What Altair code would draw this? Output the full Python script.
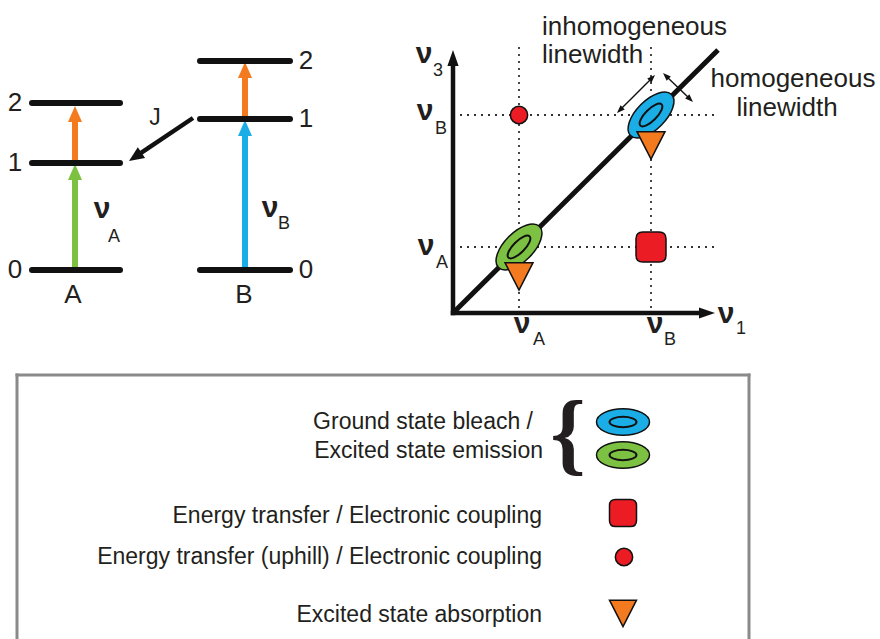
import math
import altair as alt
import pandas as pd

W, H = 880, 639
FONT = "Liberation Sans"
INK = "#231F20"

# ---------------- signal kinds and their colours ----------------
signal_kinds = ["bleach A", "bleach B", "ESA", "coupling"]
signal_colors = ["#7DC143", "#1BAEE6", "#F37A1F", "#EC1C24"]

# ---------------- energy-level diagram (canvas units) ----------------
lvl_mol = ["A", "A", "A", "B", "B", "B"]
lvl_n = ["0", "1", "2", "0", "1", "2"]
lvl_x0 = [32, 32, 32, 200, 200, 200]
lvl_x1 = [120, 120, 120, 290, 290, 290]
lvl_y = [270, 163, 103, 270, 119, 61]
lvl_lab_x = [15, 15, 15, 306, 306, 306]

mol_names = ["A", "B"]
mol_x = [73, 244]
mol_y = [303, 303]

tr_kind = ["bleach A", "ESA", "bleach B", "ESA"]
tr_x = [75, 75, 245, 245]
tr_from = [270, 163, 270, 119]
tr_tip = [164, 106, 120, 62]

j_x = [193, 129]
j_y = [118, 161]
j_lab = ["J"]
j_lab_x = [155]
j_lab_y = [125]

# ---------------- 2D spectrum schematic ----------------
orig_x, orig_y = 453, 313
axis_tip_x = [453, 715]
axis_tip_y = [50, 313]
diag_end_x, diag_end_y = 718, 50
nuA_x, nuB_x = 519, 651      # nu_1 positions
nuA_y, nuB_y = 247, 115      # nu_3 positions
guide_top, guide_right = 47, 716

diag_kind = ["bleach A", "bleach B"]
diag_x = [nuA_x, nuB_x]
diag_y = [nuA_y, nuB_y]
esa_x = [nuA_x, nuB_x]
esa_y = [276, 145]
cross_sq_x, cross_sq_y = [nuB_x], [nuA_y]
cross_ci_x, cross_ci_y = [nuA_x], [nuB_y]

lw_x0 = [617, 663]
lw_y0 = [113, 73]
lw_x1 = [655, 693]
lw_y1 = [75, 102]

# nu labels with subscripts
nu_x = [102, 270, 424, 425, 426, 522, 655, 726]
nu_y = [218, 217, 63, 120, 255, 333, 333, 323]
sub_text = ["A", "B", "3", "B", "A", "A", "B", "1"]
sub_x = [114, 284, 438, 441, 442, 539, 670, 741]
sub_y = [242, 229, 76, 134, 268, 345, 345, 334]

lw_text_l = ["inhomogeneous", "linewidth"]
lw_text_l_x = [542, 542]
lw_text_l_y = [35, 63]
lw_text_c = ["homogeneous", "linewidth"]
lw_text_c_x = [793, 787]
lw_text_c_y = [87, 116]

# ---------------- legend ----------------
box_x = [17, 17, 749]
box_y = [639, 375, 375]
box_x2 = [17, 749, 749]
box_y2 = [375, 375, 639]

leg_text = ["Ground state bleach /", "Excited state emission",
            "Energy transfer / Electronic coupling",
            "Energy transfer (uphill) / Electronic coupling",
            "Excited state absorption"]
leg_text_x = [533, 543, 542, 542, 542]
leg_text_y = [429, 458, 523, 564, 622]
leg_ell_kind = ["bleach B", "bleach A"]
leg_ell_x = [623, 623]
leg_ell_y = [422, 455]
leg_sq = (623, 513)
leg_ci = (624, 557)
leg_tri = (623, 613)
brace_x, brace_y = [568], [463]

# ---------------- helpers ----------------
xs = alt.Scale(domain=[0, W], range=[0, W], nice=False, zero=False)
ys = alt.Scale(domain=[0, H], range=[0, H], nice=False, zero=False)
color_scale = alt.Scale(domain=signal_kinds, range=signal_colors)


def XY():
    return dict(x=alt.X("x:Q", scale=xs, axis=None), y=alt.Y("y:Q", scale=ys, axis=None))


def rules(df, **mark):
    enc = XY()
    enc.update(x2="x2:Q", y2="y2:Q")
    if "kind" in df.columns:
        enc["color"] = alt.Color("kind:N", scale=color_scale, legend=None)
    return alt.Chart(df).mark_rule(**mark).encode(**enc)


def points(df, shape, size, filled=True, **mark):
    enc = XY()
    if "kind" in df.columns:
        enc["color"] = alt.Color("kind:N", scale=color_scale, legend=None)
    if "angle" in df.columns:
        enc["angle"] = alt.Angle("angle:Q", scale=None)
    return alt.Chart(df).mark_point(shape=shape, size=size, filled=filled, opacity=1, **mark).encode(**enc)


def texts(df, **mark):
    enc = XY()
    enc["text"] = "t:N"
    return alt.Chart(df).mark_text(**mark).encode(**enc)


def head_path(ratio):
    return f"M0,-1L{ratio},1L-{ratio},1Z"


def arrow(x0, y0, x1, y1, head_len):
    dx, dy = x1 - x0, y1 - y0
    L = math.hypot(dx, dy)
    ux, uy = dx / L, dy / L
    ang = math.degrees(math.atan2(dx, -dy)) % 360
    head = (x1 - ux * head_len / 2, y1 - uy * head_len / 2, ang)
    shaft_end = (x1 - ux * head_len * 0.7, y1 - uy * head_len * 0.7)
    return shaft_end, head


layers = []

# legend box
layers.append(rules(pd.DataFrame({"x": box_x, "y": box_y, "x2": box_x2, "y2": box_y2}),
                    color="#8A8A8A", strokeWidth=3, strokeCap="square"))

# dotted guides
gx = [nuA_x, nuB_x, orig_x, orig_x]
gy = [guide_top, guide_top, nuA_y, nuB_y]
gx2 = [nuA_x, nuB_x, guide_right, guide_right]
gy2 = [orig_y, orig_y, nuA_y, nuB_y]
layers.append(rules(pd.DataFrame({"x": gx, "y": gy, "x2": gx2, "y2": gy2}),
                    color="#333333", strokeWidth=1.8, strokeDash=[2, 5]))

# diagonal
layers.append(rules(pd.DataFrame({"x": [orig_x], "y": [orig_y], "x2": [diag_end_x], "y2": [diag_end_y]}),
                    color="#111111", strokeWidth=5, strokeCap="butt"))

# axes with heads
ax_shaft, ax_heads = [], []
for tx, ty in zip(axis_tip_x, axis_tip_y):
    s, h = arrow(orig_x, orig_y, tx, ty, 16)
    ax_shaft.append((orig_x, orig_y, s[0], s[1]))
    ax_heads.append(h)
layers.append(rules(pd.DataFrame(ax_shaft, columns=["x", "y", "x2", "y2"]),
                    color="#111111", strokeWidth=4.5, strokeCap="square"))
layers.append(points(pd.DataFrame(ax_heads, columns=["x", "y", "angle"]), head_path(0.7), 256,
                     color="#111111", strokeWidth=0))

# linewidth double arrows
lw_shaft, lw_heads = [], []
for a, b, c, d in zip(lw_x0, lw_y0, lw_x1, lw_y1):
    s1, h1 = arrow(a, b, c, d, 8)
    s0, h0 = arrow(c, d, a, b, 8)
    lw_shaft.append((s0[0], s0[1], s1[0], s1[1]))
    lw_heads += [h0, h1]
layers.append(rules(pd.DataFrame(lw_shaft, columns=["x", "y", "x2", "y2"]),
                    color="#111111", strokeWidth=1.4))
layers.append(points(pd.DataFrame(lw_heads, columns=["x", "y", "angle"]), head_path(0.75), 64,
                     color="#111111", strokeWidth=0))

# transition arrows
tr_shaft, tr_heads = [], []
for k, x, y0, y1 in zip(tr_kind, tr_x, tr_from, tr_tip):
    s, h = arrow(x, y0, x, y1, 16)
    tr_shaft.append((k, x, y0, s[0], s[1]))
    tr_heads.append((k,) + h)
layers.append(rules(pd.DataFrame(tr_shaft, columns=["kind", "x", "y", "x2", "y2"]),
                    strokeWidth=6, strokeCap="butt"))
layers.append(points(pd.DataFrame(tr_heads, columns=["kind", "x", "y", "angle"]), head_path(0.875), 256,
                     strokeWidth=0))

# energy levels
layers.append(rules(pd.DataFrame({"x": lvl_x0, "y": lvl_y, "x2": lvl_x1, "y2": lvl_y}),
                    color="#111111", strokeWidth=6, strokeCap="round"))

# J arrow
s, h = arrow(j_x[0], j_y[0], j_x[1], j_y[1], 15)
layers.append(rules(pd.DataFrame({"x": [j_x[0]], "y": [j_y[0]], "x2": [s[0]], "y2": [s[1]]}),
                    color="#111111", strokeWidth=4.5, strokeCap="butt"))
layers.append(points(pd.DataFrame([h], columns=["x", "y", "angle"]), head_path(0.87), 225,
                     color="#111111", strokeWidth=0))

# ellipse shapes
ELL_OUT = "M-1,0A1,0.5,0,1,1,1,0A1,0.5,0,1,1,-1,0Z"
ELL_IN = "M-1,0A1,0.38,0,1,1,1,0A1,0.38,0,1,1,-1,0Z"
TRI = "M-1,-0.95L1,-0.95L0,1Z"
RSQ = ("M-0.55,-1L0.55,-1Q1,-1,1,-0.55L1,0.55Q1,1,0.55,1L-0.55,1"
       "Q-1,1,-1,0.55L-1,-0.55Q-1,-1,-0.55,-1Z")

# diagonal peaks
dg = pd.DataFrame({"kind": diag_kind, "x": diag_x, "y": diag_y, "angle": [315, 315]})
layers.append(points(dg, ELL_OUT, 3364, stroke="#111111", strokeWidth=1.5))
layers.append(points(dg[["x", "y", "angle"]], ELL_IN, 900, filled=False, color="#111111", strokeWidth=2))

# ESA triangles
layers.append(points(pd.DataFrame({"kind": ["ESA", "ESA"], "x": esa_x, "y": esa_y}), TRI, 784,
                     stroke="#111111", strokeWidth=1.5))
# cross peaks
layers.append(points(pd.DataFrame({"kind": ["coupling"], "x": cross_sq_x, "y": cross_sq_y}), RSQ, 900,
                     stroke="#111111", strokeWidth=1.5))
layers.append(points(pd.DataFrame({"kind": ["coupling"], "x": cross_ci_x, "y": cross_ci_y}), "circle", 300,
                     stroke="#111111", strokeWidth=1.5))

# legend symbols
le = pd.DataFrame({"kind": leg_ell_kind, "x": leg_ell_x, "y": leg_ell_y})
layers.append(points(le, ELL_OUT, 2809, stroke="#111111", strokeWidth=1.5))
layers.append(points(le[["x", "y"]], ELL_IN, 729, filled=False, color="#111111", strokeWidth=2))
layers.append(points(pd.DataFrame({"kind": ["coupling"], "x": [leg_sq[0]], "y": [leg_sq[1]]}), RSQ, 729,
                     stroke="#111111", strokeWidth=1.5))
layers.append(points(pd.DataFrame({"kind": ["coupling"], "x": [leg_ci[0]], "y": [leg_ci[1]]}), "circle", 300,
                     stroke="#111111", strokeWidth=1.5))
layers.append(points(pd.DataFrame({"kind": ["ESA"], "x": [leg_tri[0]], "y": [leg_tri[1]]}), TRI, 729,
                     stroke="#111111", strokeWidth=1.5))

# ---------------- texts ----------------
layers.append(texts(pd.DataFrame({"t": lvl_n, "x": lvl_lab_x, "y": lvl_y}),
                    font=FONT, fontSize=26, align="center", baseline="middle", color=INK))
layers.append(texts(pd.DataFrame({"t": mol_names, "x": mol_x, "y": mol_y}),
                    font=FONT, fontSize=26, align="center", baseline="alphabetic", color=INK))
layers.append(texts(pd.DataFrame({"t": j_lab, "x": j_lab_x, "y": j_lab_y}),
                    font=FONT, fontSize=23, align="center", baseline="alphabetic", color=INK))
layers.append(texts(pd.DataFrame({"t": ["ν"] * len(nu_x), "x": nu_x, "y": nu_y}),
                    font=FONT, fontSize=30, fontWeight="bold", align="center", baseline="alphabetic",
                    color=INK))
layers.append(texts(pd.DataFrame({"t": sub_text, "x": sub_x, "y": sub_y}),
                    font=FONT, fontSize=18, align="center", baseline="alphabetic", color=INK))
layers.append(texts(pd.DataFrame({"t": lw_text_l, "x": lw_text_l_x, "y": lw_text_l_y}),
                    font=FONT, fontSize=26, align="left", baseline="alphabetic", color=INK))
layers.append(texts(pd.DataFrame({"t": lw_text_c, "x": lw_text_c_x, "y": lw_text_c_y}),
                    font=FONT, fontSize=26, align="center", baseline="alphabetic", color=INK))
layers.append(texts(pd.DataFrame({"t": leg_text, "x": leg_text_x, "y": leg_text_y}),
                    font=FONT, fontSize=23, align="right", baseline="alphabetic", color=INK))
layers.append(texts(pd.DataFrame({"t": ["{"], "x": brace_x, "y": brace_y}),
                    font="Liberation Serif", fontSize=90, fontWeight="bold", align="center",
                    baseline="alphabetic", color=INK))

chart = alt.layer(*layers).properties(
    width=W, height=H, padding=0,
    autosize=alt.AutoSizeParams(type="none"),
    background="white",
).configure_view(stroke=None)

chart.save("out.html", embed_options={"renderer": "svg", "actions": False})
